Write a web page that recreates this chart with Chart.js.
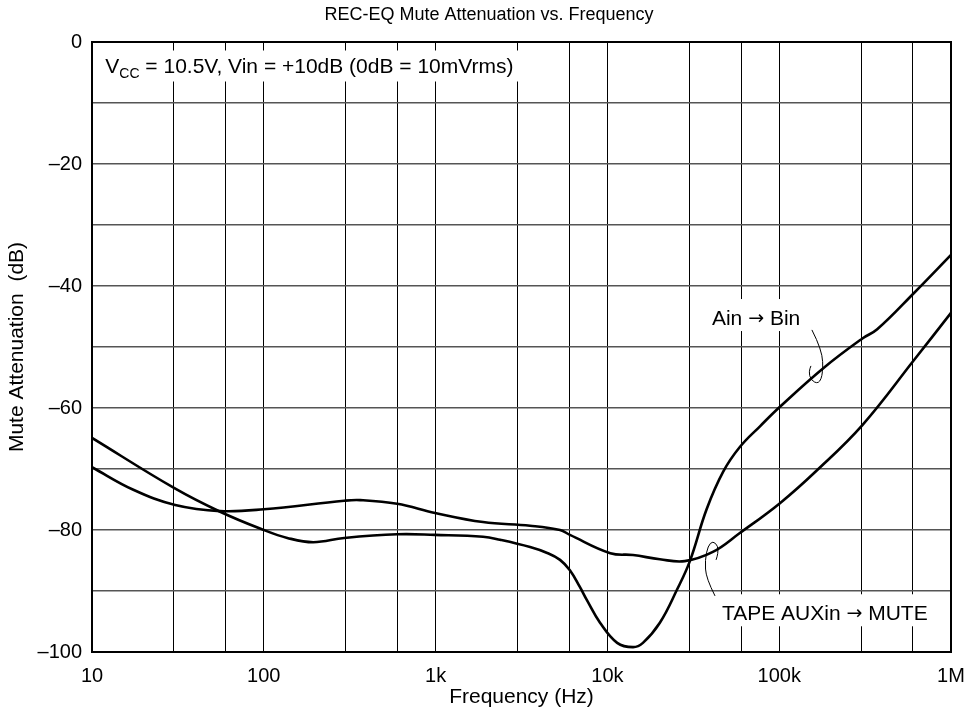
<!DOCTYPE html>
<html><head><meta charset="utf-8">
<script src="https://cdn.jsdelivr.net/npm/chart.js@4/dist/chart.umd.min.js"></script>
<style>html,body{margin:0;padding:0;background:#fff}#wrap{width:972px;height:720px}</style>
</head><body><div id="wrap"><canvas id="c" width="972" height="720"></canvas></div>
<script>
const FONT = "'Liberation Sans', Arial, Helvetica, sans-serif";
const ARROW_FONT = "'DejaVu Sans', sans-serif";

// Ain -> Bin
const ainFreq = [10, 30, 55.7, 100, 137, 194, 294, 597, 993, 1888, 2370, 3548, 4500, 5300, 6050, 6900, 7600, 9060, 11400, 14100, 16100, 20200, 25400, 30200, 37800, 47300, 59000, 77300, 101000, 182000, 305000, 372000, 611000, 1000000];
const ainDb   = [-64.9, -73.1, -77.0, -80.0, -81.3, -82.0, -81.3, -80.7, -80.8, -81.1, -81.6, -82.8, -83.8, -84.9, -86.6, -89.3, -91.5, -95.2, -98.5, -99.2, -98.5, -95.2, -89.8, -85.1, -76.6, -70.4, -66.4, -63.0, -59.8, -53.4, -48.6, -47.1, -41.1, -34.9];

// TAPE AUXin -> MUTE
const tapeFreq = [10, 17.4, 30.5, 55.7, 100, 294, 364, 597, 993, 1888, 3548, 5300, 6050, 10400, 14100, 20200, 28200, 41100, 59000, 101000, 166000, 305000, 611000, 1000000];
const tapeDb   = [-69.7, -73.4, -75.9, -76.9, -76.6, -75.2, -75.1, -75.7, -77.2, -78.7, -79.3, -80.0, -80.8, -83.8, -84.1, -84.8, -85.1, -83.6, -80.5, -75.6, -70.2, -62.8, -52.1, -44.4];

const xGridValues = [10, 30, 60, 100, 300, 600, 1e3, 3e3, 6e3, 1e4, 3e4, 6e4, 1e5, 3e5, 6e5, 1e6];
const xTickLabels = {10: '10', 100: '100', 1000: '1k', 10000: '10k', 100000: '100k', 1000000: '1M'};
const yLabelStep = 20;

const titleText = 'REC-EQ Mute Attenuation vs. Frequency';
const xTitle = 'Frequency (Hz)';
const yTitle = 'Mute Attenuation  (dB)';

// annotations (data coordinates)
const condLabel = {f: 11.95, db: -5.0, main: 'V', sub: 'CC', rest: ' = 10.5V, Vin = +10dB (0dB = 10mVrms)'};
const ainLabel = {f: 40600, db: -46.4, parts: ['Ain ', '\u2192', ' Bin']};
const tapeLabel = {f: 46400, db: -94.8, parts: ['TAPE AUXin ', '\u2192', ' MUTE']};
const ainLeader = [[155e3, -47.2], [178e3, -50.5], [180e3, -54.3], [170e3, -56.1], [152e3, -55.4], [149e3, -54.0], [153e3, -53.1]];
const tapeLeader = [[42.3e3, -90.8], [37.5e3, -87.9], [37.0e3, -84.9], [38.5e3, -82.6], [41.1e3, -81.8], [44.0e3, -82.6], [44.0e3, -83.9], [42.9e3, -84.9]];

const toXY = (fs, ds) => fs.map((f, i) => ({x: f, y: ds[i]}));

function partFont(i) { return i === 1 ? '19px ' + ARROW_FONT : '21px ' + FONT; }
function partsWidth(ctx, parts) {
  let w = 0;
  parts.forEach((p, i) => { ctx.font = partFont(i); w += ctx.measureText(p).width; });
  return w;
}

function smoothPath(ctx, pts) {
  ctx.beginPath();
  ctx.moveTo(pts[0][0], pts[0][1]);
  for (let i = 1; i < pts.length - 1; i++) {
    const mx = (pts[i][0] + pts[i + 1][0]) / 2, my = (pts[i][1] + pts[i + 1][1]) / 2;
    ctx.quadraticCurveTo(pts[i][0], pts[i][1], mx, my);
  }
  const l = pts[pts.length - 1];
  ctx.lineTo(l[0], l[1]);
  ctx.stroke();
}

const annot = {
  id: 'annot',
  beforeDatasetsDraw(chart) {
    const {ctx, scales: {x, y}} = chart;
    ctx.save();
    ctx.fillStyle = '#fff';
    let px = x.getPixelForValue(condLabel.f), py = y.getPixelForValue(condLabel.db);
    ctx.font = '21px ' + FONT;
    let w = ctx.measureText(condLabel.main + condLabel.rest).width;
    ctx.font = '14px ' + FONT;
    w += ctx.measureText(condLabel.sub).width;
    ctx.fillRect(px - 6, py - 22, w + 12, 31);
    for (const L of [ainLabel, tapeLabel]) {
      const lx = x.getPixelForValue(L.f), ly = y.getPixelForValue(L.db);
      const tw = partsWidth(ctx, L.parts);
      ctx.fillRect(lx - 5, ly - 26, tw + 10, 32);
    }
    ctx.restore();
  },
  afterDatasetsDraw(chart) {
    const {ctx, chartArea: a, scales: {x, y}} = chart;
    ctx.save();
    ctx.strokeStyle = '#000';
    ctx.lineWidth = 2;
    ctx.strokeRect(a.left, a.top, a.right - a.left, a.bottom - a.top);
    ctx.fillStyle = '#000';
    ctx.textBaseline = 'alphabetic';
    ctx.textAlign = 'left';
    let px = x.getPixelForValue(condLabel.f), py = y.getPixelForValue(condLabel.db);
    ctx.font = '21px ' + FONT;
    ctx.fillText(condLabel.main, px, py);
    px += ctx.measureText(condLabel.main).width;
    ctx.font = '14px ' + FONT;
    ctx.fillText(condLabel.sub, px, py + 5);
    px += ctx.measureText(condLabel.sub).width;
    ctx.font = '21px ' + FONT;
    ctx.fillText(condLabel.rest, px, py);
    for (const L of [ainLabel, tapeLabel]) {
      let lx = x.getPixelForValue(L.f);
      const ly = y.getPixelForValue(L.db);
      L.parts.forEach((p, i) => {
        ctx.font = partFont(i);
        ctx.fillText(p, lx, i === 1 ? ly - 1 : ly);
        lx += ctx.measureText(p).width;
      });
    }
    ctx.lineWidth = 1;
    for (const lead of [ainLeader, tapeLeader]) {
      smoothPath(ctx, lead.map(p => [x.getPixelForValue(p[0]), y.getPixelForValue(p[1])]));
    }
    ctx.font = '18px ' + FONT;
    ctx.textAlign = 'center';
    ctx.textBaseline = 'middle';
    ctx.fillText(titleText, chart.width / 2 + 3, 15);
    ctx.restore();
  }
};

const lineStyle = {borderColor: '#000', borderWidth: 2.6, pointRadius: 0, showLine: true, fill: false, tension: 0.4};

new Chart(document.getElementById('c'), {
  type: 'scatter',
  data: {
    datasets: [
      Object.assign({label: 'Ain \u2192 Bin', data: toXY(ainFreq, ainDb)}, lineStyle),
      Object.assign({label: 'TAPE AUXin \u2192 MUTE', data: toXY(tapeFreq, tapeDb)}, lineStyle)
    ]
  },
  options: {
    responsive: false,
    animation: false,
    devicePixelRatio: 1,
    layout: {padding: {top: 42, right: 21, left: 0, bottom: 0}},
    plugins: {legend: {display: false}, tooltip: {enabled: false}, title: {display: false}},
    scales: {
      x: {
        type: 'logarithmic', min: 10, max: 1e6, position: 'bottom',
        afterFit: s => { s.height = 68; s.paddingLeft = 0; s.paddingRight = 0; },
        afterBuildTicks: s => { s.ticks = xGridValues.map(v => ({value: v})); },
        ticks: {autoSkip: false, maxRotation: 0, minRotation: 0, padding: 12, color: '#000',
          font: {size: 20, family: FONT},
          callback: v => (xTickLabels[v] !== undefined ? xTickLabels[v] : '')},
        grid: {color: '#000', lineWidth: 1, drawTicks: false},
        border: {color: '#000', width: 2},
        title: {display: true, text: xTitle, color: '#000', font: {size: 21, family: FONT}, padding: {top: 0, bottom: 10}}
      },
      y: {
        type: 'linear', min: -100, max: 0,
        afterFit: s => { s.width = 92; s.paddingTop = 0; s.paddingBottom = 0; },
        ticks: {stepSize: 10, autoSkip: false, padding: 10, color: '#000',
          font: {size: 20, family: FONT},
          callback: v => (v % yLabelStep === 0 ? (v < 0 ? '\u2013' + Math.abs(v) : String(v)) : '')},
        grid: {color: '#555', lineWidth: 1.4, drawTicks: false},
        border: {color: '#000', width: 2},
        title: {display: true, text: yTitle, color: '#000', font: {size: 21, family: FONT}, padding: {top: 5, bottom: 0}}
      }
    }
  },
  plugins: [annot]
});
</script>
</body></html>
